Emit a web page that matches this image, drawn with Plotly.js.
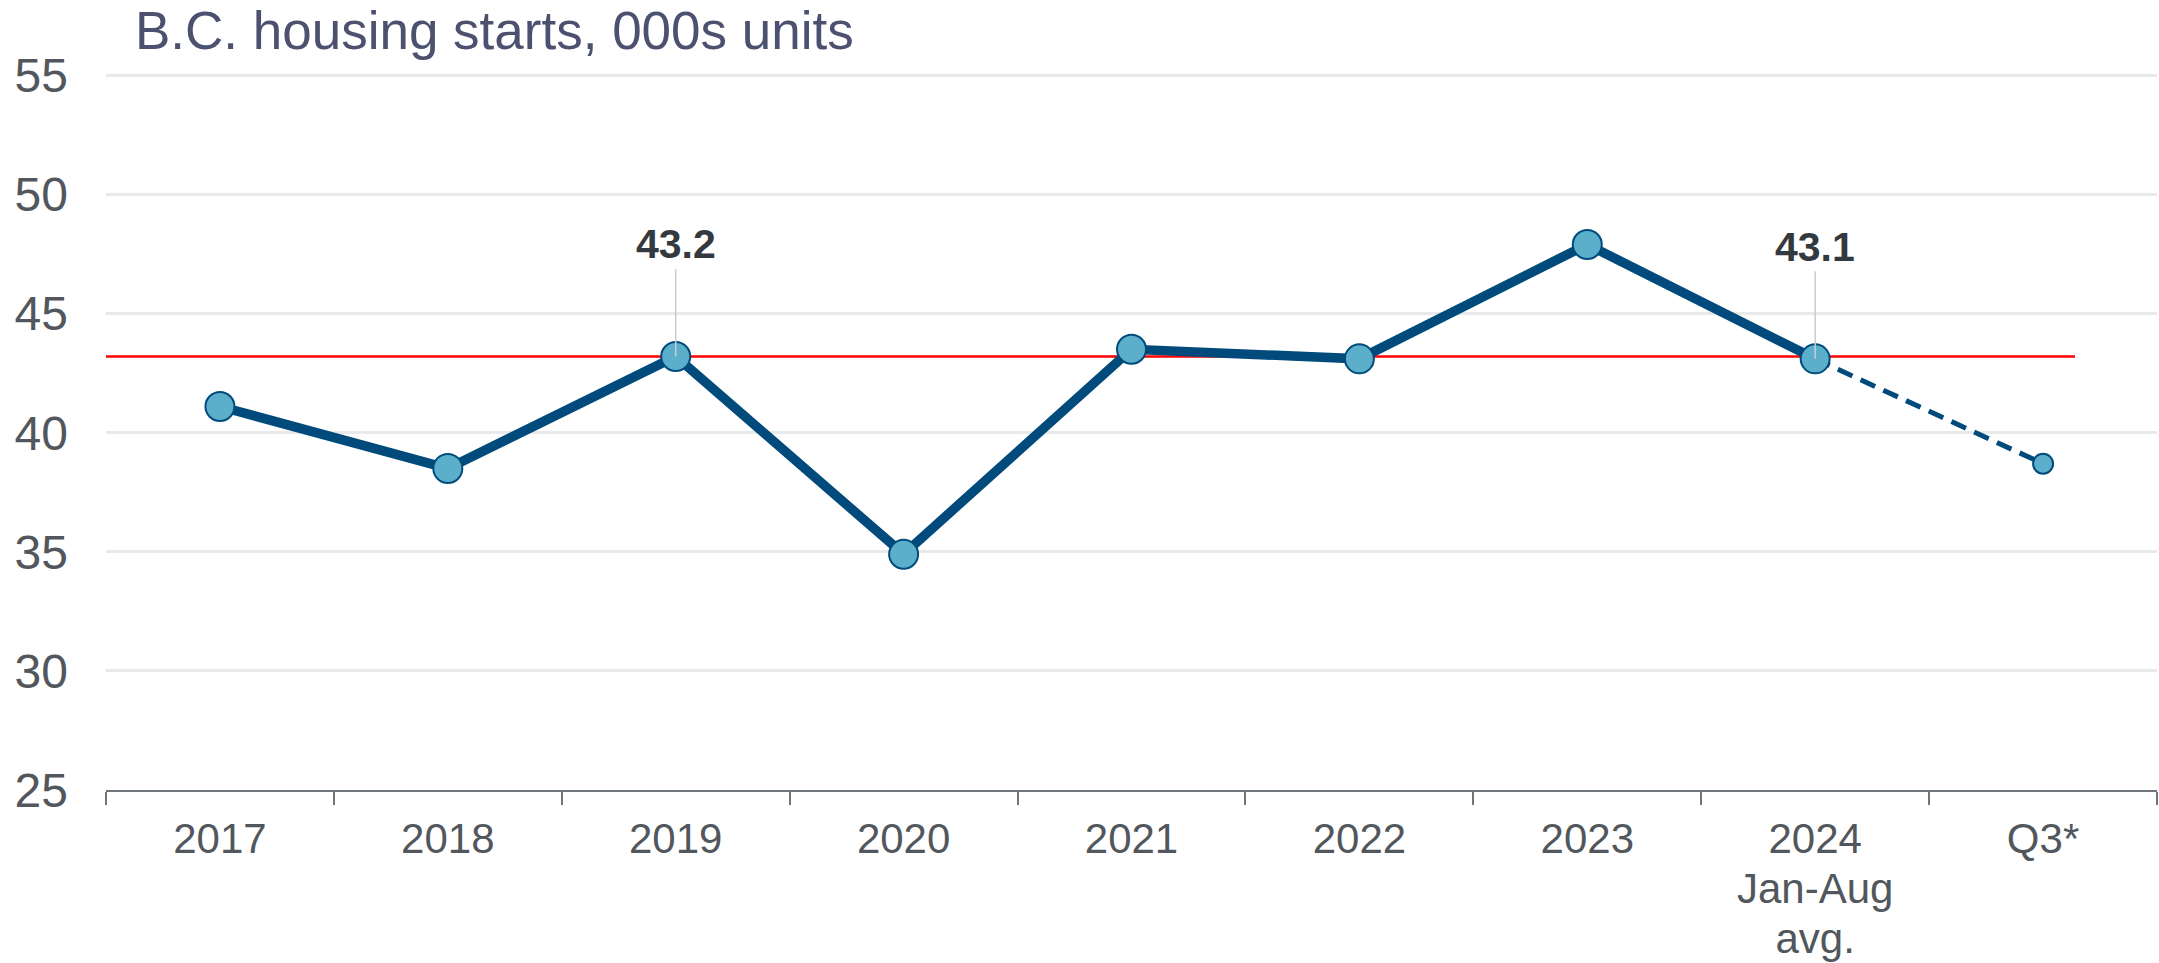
<!DOCTYPE html>
<html>
<head>
<meta charset="utf-8">
<script src="https://cdn.plot.ly/plotly-3.0.1.min.js"></script>
<style>html,body{margin:0;padding:0;background:#fff;}#chart{width:2159px;height:963px;}</style>
</head>
<body>
<div id="chart"></div>
<script>
// ---- data ----
const categories = ['2017', '2018', '2019', '2020', '2021', '2022', '2023', '2024<br>Jan-Aug<br>avg.', 'Q3*'];
const startsActual = [41.1, 38.5, 43.2, 34.9, 43.5, 43.1, 47.9, 43.1];   // 2017..2024 (solid)
const startsQ3 = 38.7;                                               // Q3* (dashed)
const referenceLevel = 43.2;                                         // red reference line
const labelledIdx = [2, 7];                                          // points with value labels
const yTicks = [25, 30, 35, 40, 45, 50, 55];

const FONT = 'Arial, "Liberation Sans", sans-serif';
const DARK = '#004b7b';
const LIGHT = '#5bafca';

const solidX = categories.slice(0, startsActual.length);
const dashX = [categories[startsActual.length - 1], categories[categories.length - 1]];
const dashY = [startsActual[startsActual.length - 1], startsQ3];
const allY = startsActual.concat([startsQ3]);

const traces = [
  {x: solidX, y: startsActual, type: 'scatter', mode: 'lines',
   line: {color: DARK, width: 9.5}, hoverinfo: 'skip', showlegend: false},
  {x: dashX, y: dashY, type: 'scatter', mode: 'lines',
   line: {color: DARK, width: 5, dash: '16px,9px'}, hoverinfo: 'skip', showlegend: false},
  {x: categories, y: allY, type: 'scatter', mode: 'markers',
   marker: {color: LIGHT, opacity: 1,
            size: allY.map((v, i) => i === allY.length - 1 ? 20 : 29),
            line: {color: DARK, width: 2}},
   hoverinfo: 'skip', showlegend: false}
];

const annotations = labelledIdx.map(i => ({
  x: i, y: allY[i], xref: 'x', yref: 'y',
  text: '<b>' + allY[i].toFixed(1) + '</b>',
  showarrow: true, arrowhead: 0, arrowwidth: 1.5, arrowcolor: '#c8ccd0',
  ax: 0, ay: -112, standoff: 0,
  font: {family: FONT, size: 41, color: '#33393e'}
}));

const layout = {
  width: 2159, height: 963,
  margin: {l: 106, r: 2, t: 73, b: 173, pad: 0},
  paper_bgcolor: '#ffffff', plot_bgcolor: '#ffffff',
  font: {family: FONT, color: '#51575c'},
  title: {
    text: 'B.C. housing starts, 000s units',
    font: {family: FONT, size: 53, color: '#4c5170'},
    xref: 'container', yref: 'container',
    x: 0.0625, xanchor: 'left', y: 0.968, yanchor: 'middle'
  },
  xaxis: {
    type: 'category', categoryorder: 'array', categoryarray: categories,
    range: [-0.5, categories.length - 0.5],
    showline: true, linecolor: '#6f757a', linewidth: 2,
    ticks: 'outside', tickson: 'boundaries', ticklen: 13, tickwidth: 2, tickcolor: '#6f757a',
    showgrid: false, zeroline: false,
    ticklabelstandoff: 11,
    tickfont: {family: FONT, size: 42, color: '#51575c'},
    fixedrange: true
  },
  yaxis: {
    range: [25, 55.1], tickvals: yTicks, ticktext: yTicks.map(String),
    showgrid: true, gridcolor: '#e7e9ea', gridwidth: 3,
    showline: false, zeroline: false, ticks: '',
    ticklabelstandoff: 37,
    tickfont: {family: FONT, size: 48, color: '#51575c'},
    fixedrange: true
  },
  shapes: [{
    type: 'line', xref: 'x', yref: 'y',
    x0: -0.53, x1: 8.14, y0: referenceLevel, y1: referenceLevel,
    line: {color: '#ff0000', width: 2.5}, layer: 'below'
  }],
  annotations: annotations
};

Plotly.newPlot('chart', traces, layout, {displayModeBar: false, staticPlot: true}).then(gd => {
  // tighten the line spacing of the multi-line x tick label to match the reference
  gd.querySelectorAll('.xtick text tspan.line').forEach(t => {
    const dy = parseFloat(t.getAttribute('dy'));
    if (!isNaN(dy) && dy > 0) t.setAttribute('dy', (dy * 1.19 / 1.3) + 'em');
  });
});
</script>
</body>
</html>
